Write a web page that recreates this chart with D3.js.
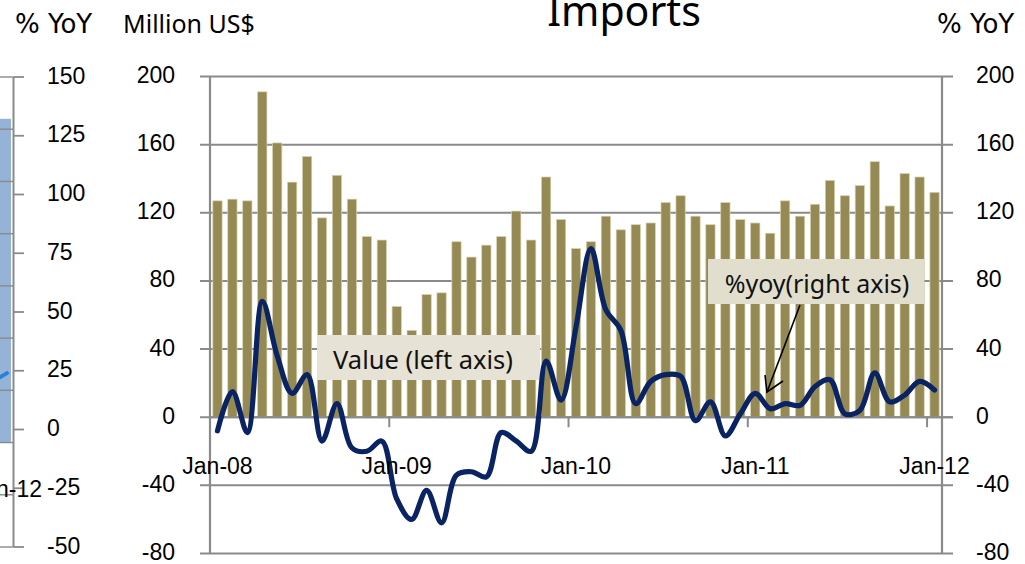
<!DOCTYPE html>
<html>
<head>
<meta charset="utf-8">
<script src="https://cdn.jsdelivr.net/npm/d3@7"></script>
<style>
  html, body { margin: 0; padding: 0; background: #fff; }
  svg { display: block; }
</style>
</head>
<body>
<svg id="chart" width="1025" height="564"></svg>
<script>
// ---------- data ----------
const categories = [
  "Jan-08","Feb-08","Mar-08","Apr-08","May-08","Jun-08","Jul-08","Aug-08","Sep-08","Oct-08","Nov-08","Dec-08",
  "Jan-09","Feb-09","Mar-09","Apr-09","May-09","Jun-09","Jul-09","Aug-09","Sep-09","Oct-09","Nov-09","Dec-09",
  "Jan-10","Feb-10","Mar-10","Apr-10","May-10","Jun-10","Jul-10","Aug-10","Sep-10","Oct-10","Nov-10","Dec-10",
  "Jan-11","Feb-11","Mar-11","Apr-11","May-11","Jun-11","Jul-11","Aug-11","Sep-11","Oct-11","Nov-11","Dec-11",
  "Jan-12"
];
const importValues = [
  127,128,127,191,161,138,153,117,142,128,106,104,
  65,51,72,73,103,94,101,106,121,104,141,116,
  99,103,118,110,113,114,126,130,118,113,126,116,
  114,108,127,118,125,139,130,136,150,124,143,141,
  132
];
const yoyValues = [
  -8,15,-9,68,36,14,25,-14,8,-18,-20,-14,
  -48,-60,-43,-62,-34,-32,-35,-9,-14,-20,33,10,
  53,99,63,51,8,21,25,24,-2,9,-11,2,
  14,5,8,7,18,22,2,4,26,9,13,21,
  16
];
const xTickLabels = ["Jan-08","Jan-09","Jan-10","Jan-11","Jan-12"];
const leftTicks = [200,160,120,80,40,0,-40,-80];
const rightTicks = [200,160,120,80,40,0,-40,-80];

// neighbouring (cropped) chart on the far left
const sideYoyTicks = [150,125,100,75,50,25,0,-25,-50];
const sideGridTicks = [700,600,500,400,300,200,100,0,-100,-200];
const sideBarValue = [620];
const sideLineValues = [22, 24];
const sideCategoryLabel = ["Jan-12"];

// ---------- layout ----------
const svg = d3.select("#chart");
const plot = { left: 210, right: 942, top: 76.5, bottom: 553.5 };
const gridColor = "#8a8a8a";
const numFont = "'Liberation Sans', Arial, sans-serif";
const txtFont = "'Noto Sans', 'Open Sans', sans-serif";
const unitFont = "'DejaVu Sans', 'Noto Sans', sans-serif";

const x = d3.scaleBand().domain(categories)
  .range([plot.left, plot.right]).paddingInner(0.38).paddingOuter(0.19);
const yL = d3.scaleLinear().domain([-80, 200]).range([plot.bottom, plot.top]);
const yR = d3.scaleLinear().domain([-80, 200]).range([plot.bottom, plot.top]);
const step = x.step();
const boundary = c => x(c) - (step - x.bandwidth()) / 2;

// ---------- side chart (cropped) ----------
const sideY = d3.scaleLinear().domain([-50, 150]).range([547, 77]);
const sideYP = d3.scaleLinear().domain([-200, 700]).range([547, 77]);
const sideAxisX = 13.5;
const side = svg.append("g");
side.selectAll("rect.sb").data(sideBarValue).enter().append("rect")
  .attr("x", -6).attr("width", 17)
  .attr("y", d => sideYP(d)).attr("height", d => sideYP(0) - sideYP(d))
  .attr("fill", "#95b3d7");
side.selectAll("line.sg").data(sideGridTicks).enter().append("line")
  .attr("x1", 0).attr("x2", sideAxisX)
  .attr("y1", d => sideYP(d)).attr("y2", d => sideYP(d))
  .attr("stroke", gridColor).attr("stroke-width", 1.4);
side.append("line").attr("x1", sideAxisX).attr("x2", sideAxisX)
  .attr("y1", sideY(150)).attr("y2", sideY(-50))
  .attr("stroke", gridColor).attr("stroke-width", 2);
side.selectAll("line.st").data(sideYoyTicks).enter().append("line")
  .attr("x1", sideAxisX).attr("x2", 24)
  .attr("y1", d => sideY(d)).attr("y2", d => sideY(d))
  .attr("stroke", gridColor).attr("stroke-width", 1.8);
side.selectAll("text.sl").data(sideYoyTicks).enter().append("text")
  .attr("x", 47).attr("y", d => sideY(d) + 6.5)
  .attr("font-family", numFont).attr("font-size", 23).attr("fill", "#000")
  .text(d => d);
side.append("path")
  .datum(sideLineValues)
  .attr("d", d3.line().x((d, i) => -1 + i * 8).y(d => sideY(d)))
  .attr("fill", "none").attr("stroke", "#2a7fdc").attr("stroke-width", 4).attr("stroke-linecap", "round");
side.selectAll("text.sc").data(sideCategoryLabel).enter().append("text")
  .attr("x", 42).attr("y", 497).attr("text-anchor", "end")
  .attr("font-family", numFont).attr("font-size", 23).attr("fill", "#000")
  .text(d => d);

// ---------- gridlines + tick marks ----------
const g = svg.append("g");
g.selectAll("line.grid").data(leftTicks).enter().append("line")
  .attr("x1", plot.left - 10).attr("x2", plot.right + 11)
  .attr("y1", d => yL(d)).attr("y2", d => yL(d))
  .attr("stroke", gridColor).attr("stroke-width", 2);

// ---------- bars ----------
g.selectAll("rect.bar").data(categories).enter().append("rect")
  .attr("x", d => x(d)).attr("width", x.bandwidth())
  .attr("y", (d, i) => yL(importValues[i]))
  .attr("height", (d, i) => yL(0) - yL(importValues[i]))
  .attr("fill", "#958a53")
  .attr("stroke", "#d6d0ad").attr("stroke-width", 0.7);

// zero line redrawn over bar bottoms
g.append("line").attr("x1", plot.left).attr("x2", plot.right + 11)
  .attr("y1", yL(0)).attr("y2", yL(0))
  .attr("stroke", gridColor).attr("stroke-width", 2);

// vertical axes
g.append("line").attr("x1", plot.left).attr("x2", plot.left)
  .attr("y1", plot.top).attr("y2", plot.bottom)
  .attr("stroke", gridColor).attr("stroke-width", 2.2);
g.append("line").attr("x1", plot.right).attr("x2", plot.right)
  .attr("y1", plot.top).attr("y2", plot.bottom)
  .attr("stroke", gridColor).attr("stroke-width", 2.2);

// x tick marks at year boundaries
g.selectAll("line.xt").data(xTickLabels).enter().append("line")
  .attr("x1", d => boundary(d)).attr("x2", d => boundary(d))
  .attr("y1", yL(0)).attr("y2", yL(0) + 10)
  .attr("stroke", gridColor).attr("stroke-width", 2);

// ---------- annotation boxes ----------
const ann = svg.append("g");
ann.append("rect").attr("x", 317).attr("y", 335).attr("width", 223).attr("height", 45)
  .attr("fill", "#e6e2d5");
ann.append("text").attr("x", 423).attr("y", 369)
  .attr("text-anchor", "middle").attr("font-family", txtFont).attr("font-size", 25.5)
  .attr("fill", "#111").text("Value (left axis)");
ann.append("rect").attr("x", 708).attr("y", 259).attr("width", 216).attr("height", 45)
  .attr("fill", "#e2dece");
ann.append("text").attr("x", 817).attr("y", 293)
  .attr("text-anchor", "middle").attr("font-family", txtFont).attr("font-size", 25)
  .attr("fill", "#111").text("%yoy(right axis)");

// ---------- yoy line ----------
const line = d3.line()
  .x((d, i) => x(categories[i]) + x.bandwidth() / 2)
  .y(d => yR(d))
  .curve(d3.curveCatmullRom.alpha(0.5));
svg.append("path").datum(yoyValues)
  .attr("d", line)
  .attr("fill", "none").attr("stroke", "#0a2463").attr("stroke-width", 5.2)
  .attr("stroke-linejoin", "round").attr("stroke-linecap", "round");

// arrow
ann.append("line").attr("x1", 800).attr("y1", 305).attr("x2", 767).attr("y2", 392)
  .attr("stroke", "#000").attr("stroke-width", 1.6);
ann.append("path").attr("d", "M765,375 L767,392 L783,381")
  .attr("fill", "none").attr("stroke", "#000").attr("stroke-width", 1.6);

// ---------- axis labels ----------
svg.selectAll("text.yl").data(leftTicks).enter().append("text")
  .attr("x", 175).attr("y", d => yL(d) + 6.5).attr("text-anchor", "end")
  .attr("font-family", numFont).attr("font-size", 23).attr("fill", "#000")
  .text(d => d);
svg.selectAll("text.yr").data(rightTicks).enter().append("text")
  .attr("x", 976).attr("y", d => yR(d) + 6.5)
  .attr("font-family", numFont).attr("font-size", 23).attr("fill", "#000")
  .text(d => d);
svg.selectAll("text.xl").data(xTickLabels).enter().append("text")
  .attr("x", d => x(d) + x.bandwidth() / 2).attr("y", 473.5).attr("text-anchor", "middle")
  .attr("font-family", numFont).attr("font-size", 23).attr("fill", "#000")
  .text(d => d);

// ---------- titles ----------
svg.append("text").attr("x", 624).attr("y", 26).attr("text-anchor", "middle")
  .attr("font-family", txtFont).attr("font-size", 41).attr("fill", "#000").text("Imports");
svg.append("text").attr("x", 15).attr("y", 33)
  .attr("font-family", unitFont).attr("font-size", 26)
  .attr("fill", "#000").text("% YoY");
svg.append("text").attr("x", 123).attr("y", 33)
  .attr("font-family", txtFont).attr("font-size", 25).attr("fill", "#000").text("Million US$");
svg.append("text").attr("x", 937).attr("y", 33)
  .attr("font-family", unitFont).attr("font-size", 26)
  .attr("fill", "#000").text("% YoY");
</script>
</body>
</html>
